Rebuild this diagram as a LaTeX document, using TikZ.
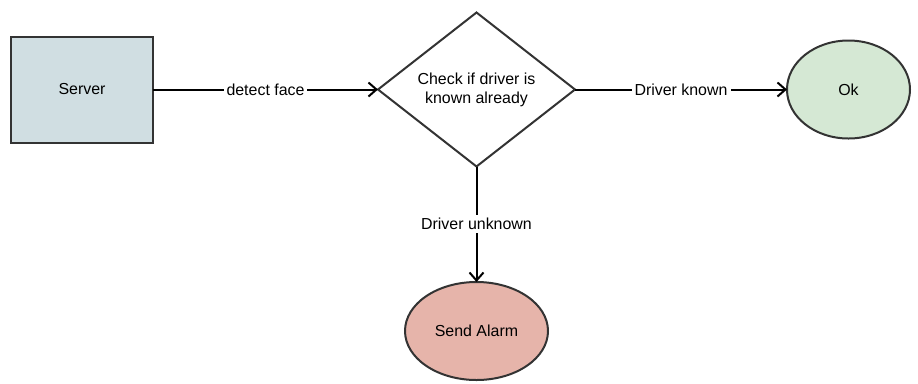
\documentclass[tikz,border=0pt]{standalone}
\usepackage{fontspec}
\setmainfont{Liberation Sans}
\usepackage{xcolor}
\usetikzlibrary{arrows.meta,positioning,shapes.geometric}

\definecolor{serverfill}{HTML}{D0DEE2}
\definecolor{okfill}{HTML}{D5E8D4}
\definecolor{alarmfill}{HTML}{E6B4AA}
\definecolor{edgegray}{HTML}{333333}

\begin{document}
\begin{tikzpicture}[x=1bp,y=-1bp,
 shape base/.style={draw=edgegray,line width=2bp,align=center,
 font=\fontsize{16}{19}\selectfont,inner sep=0pt,outer sep=0pt},
 box/.style={shape base,rectangle,minimum width=142bp,minimum height=106bp},
 decision/.style={shape base,diamond,aspect=1.28,minimum width=197bp,minimum height=154bp},
 terminal/.style={shape base,ellipse},
 flow/.style={-{Straight Barb[length=8bp,width=14bp,line width=2bp]},line width=2bp,draw=black},
 note/.style={font=\fontsize{16}{19}\selectfont,fill=white,inner sep=3pt}]
\useasboundingbox (0,0) rectangle (918,383);
\node[box,fill=serverfill] (server) at (82,89.5) {Server};
\node[decision,fill=white] (check) at (476.5,89.5) {Check if driver is\\known already};
\node[terminal,fill=okfill,minimum width=123bp,minimum height=98bp] (ok) at (848.5,89.5) {Ok};
\node[terminal,fill=alarmfill,minimum width=143bp,minimum height=98bp] (alarm) at (476.5,331) {Send Alarm};
\draw[flow] (server) -- node[note] {detect face} (check);
\draw[flow] (check) -- node[note] {Driver known} (ok);
\draw[flow] (check) -- node[note] {Driver unknown} (alarm);
\end{tikzpicture}
\end{document}
